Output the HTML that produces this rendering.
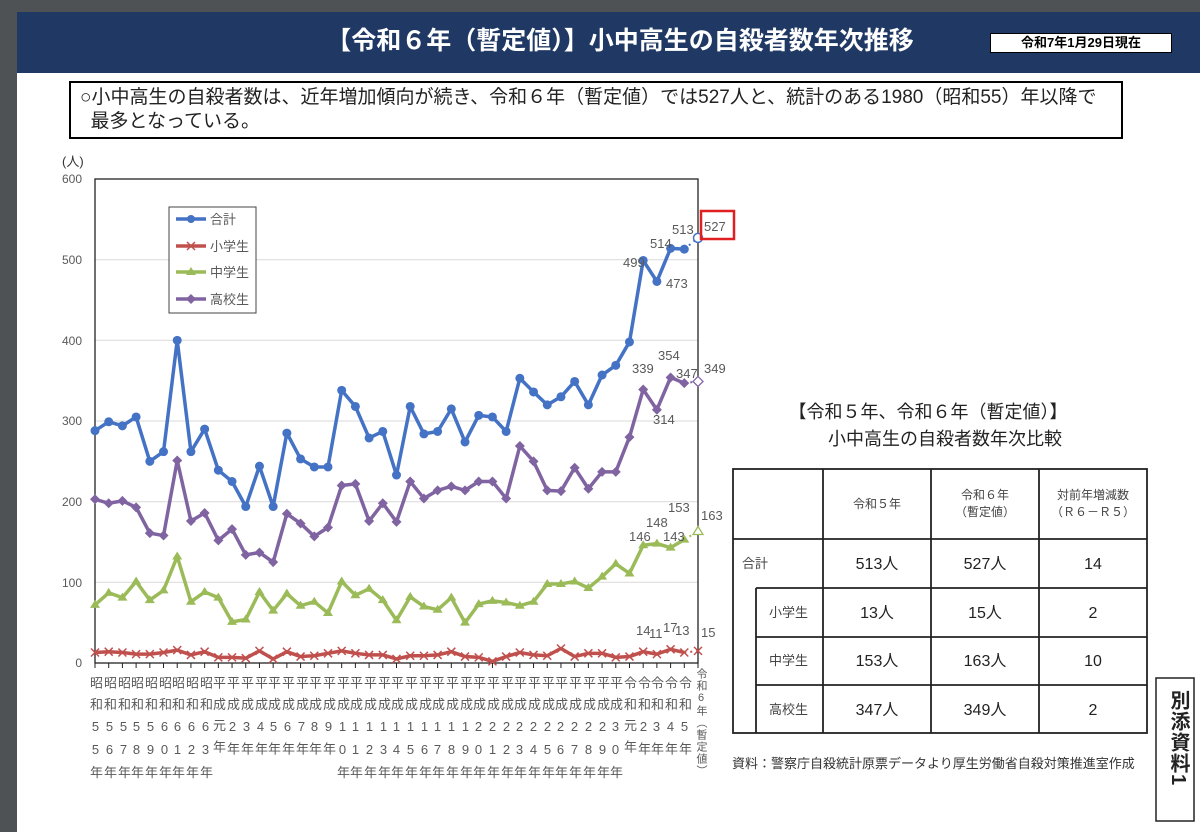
<!DOCTYPE html>
<html><head><meta charset="utf-8">
<style>
html,body{margin:0;padding:0;}
body{width:1200px;height:832px;background:#fff;position:relative;overflow:hidden;font-family:"Liberation Sans","Noto Sans CJK JP",sans-serif;}
.abs{position:absolute;}
.xl{position:absolute;top:676px;writing-mode:vertical-rl;text-orientation:upright;font-size:13px;letter-spacing:8.4px;color:#595959;width:14px;line-height:14px;}
</style></head><body>
<div class="abs" style="left:0;top:0;width:1200px;height:12px;background:#4e5254"></div>
<div class="abs" style="left:0;top:0;width:17px;height:832px;background:#4e5254"></div>
<div class="abs" style="left:17px;top:12px;width:1183px;height:61px;background:#203864"></div>
<div class="abs" style="left:300px;top:24px;width:640px;text-align:center;color:#fff;font-size:25px;font-weight:bold;line-height:34px;">【令和６年（暫定値）】小中高生の自殺者数年次推移</div>
<div class="abs" style="left:990px;top:33px;width:180px;height:18px;background:#fff;border:1px solid #000;font-size:13px;font-weight:bold;text-align:center;line-height:18px;">令和7年1月29日現在</div>
<div class="abs" style="left:69px;top:81px;width:1054px;height:58px;border:2.5px solid #000;font-size:19px;line-height:24px;color:#222;box-sizing:border-box;padding:3px 0 0 9px;white-space:nowrap;">○小中高生の自殺者数は、近年増加傾向が続き、令和６年（暫定値）では527人と、統計のある1980（昭和55）年以降で<br>&nbsp;&nbsp;最多となっている。</div>

<svg class="abs" style="left:0;top:0" width="1200" height="832" id="chart">
<g font-size="12" fill="#595959" text-anchor="end">
<text x="82" y="183">600</text><text x="82" y="264">500</text><text x="82" y="345">400</text>
<text x="82" y="425">300</text><text x="82" y="506">200</text><text x="82" y="587">100</text><text x="82" y="667">0</text>
</g>
<text x="62" y="166" font-size="13" fill="#333">(人)</text>
<g stroke="#d9d9d9" stroke-width="1">
<line x1="95" x2="698" y1="259.7" y2="259.7"/><line x1="95" x2="698" y1="340.3" y2="340.3"/><line x1="95" x2="698" y1="421" y2="421"/><line x1="95" x2="698" y1="501.7" y2="501.7"/><line x1="95" x2="698" y1="582.3" y2="582.3"/>
</g>
<rect x="95" y="179" width="603" height="484" fill="none" stroke="#222" stroke-width="1.3"/>
<g id="series"></g>
<rect x="169" y="207" width="87" height="106" fill="#fff" stroke="#444" stroke-width="1"/>
<g stroke-width="3.5">
<line x1="176" x2="206" y1="219" y2="219" stroke="#4472c4"/><circle cx="191" cy="219" r="4" fill="#4472c4"/>
<line x1="176" x2="206" y1="246" y2="246" stroke="#c0504d"/>
<line x1="176" x2="206" y1="272" y2="272" stroke="#9bbb59"/>
<line x1="176" x2="206" y1="299" y2="299" stroke="#8064a2"/>
</g>
<path d="M187,242 l8,8 M195,242 l-8,8" stroke="#c0504d" stroke-width="1.5"/>
<path d="M191,267 l5,8 h-10z" fill="#9bbb59"/>
<path d="M191,294 l5,5 -5,5 -5,-5z" fill="#8064a2"/>
<g font-size="13" fill="#595959">
<text x="210" y="224">合計</text><text x="210" y="251">小学生</text><text x="210" y="277">中学生</text><text x="210" y="304">高校生</text>
</g>
<g font-size="13" fill="#595959">
<text x="623" y="267">499</text><text x="666" y="288">473</text><text x="650" y="248">514</text><text x="672" y="234">513</text>
<text x="632" y="373">339</text><text x="653" y="424">314</text><text x="658" y="360">354</text><text x="676" y="378">347</text><text x="704" y="373">349</text>
<text x="629" y="541">146</text><text x="646" y="527">148</text><text x="663" y="541">143</text><text x="668" y="512">153</text><text x="701" y="520">163</text>
<text x="636" y="635">14</text><text x="649" y="638">11</text><text x="663" y="632">17</text><text x="675" y="635">13</text><text x="701" y="637">15</text>
</g>
<rect x="701" y="211" width="33" height="28" fill="none" stroke="#e02020" stroke-width="2.5"/>
<text x="704" y="231" font-size="13" fill="#595959">527</text>
<g stroke="#222" stroke-width="1" id="ticks"></g>

<g font-size="18" fill="#222" text-anchor="middle">
<text x="928" y="418">【令和５年、令和６年（暫定値）】</text>
<text x="945" y="445">小中高生の自殺者数年次比較</text>
</g>
<g stroke="#222" stroke-width="1.8" fill="none">
<rect x="733" y="469" width="414" height="264"/>
<line x1="733" x2="1147" y1="539" y2="539"/>
<line x1="756" x2="1147" y1="588" y2="588"/>
<line x1="756" x2="1147" y1="637" y2="637"/>
<line x1="756" x2="1147" y1="685" y2="685"/>
<line x1="756" x2="756" y1="588" y2="733"/>
<line x1="823" x2="823" y1="469" y2="733"/>
<line x1="931" x2="931" y1="469" y2="733"/>
<line x1="1039" x2="1039" y1="469" y2="733"/>
</g>
<g font-size="12" fill="#444" text-anchor="middle">
<text x="877" y="508">令和５年</text>
<text x="985" y="499">令和６年</text><text x="985" y="516">（暫定値）</text>
<text x="1093" y="499">対前年増減数</text><text x="1093" y="516">（Ｒ６－Ｒ５）</text>
</g>
<g font-size="13" fill="#444">
<text x="742" y="568">合計</text><text x="769" y="617">小学生</text><text x="769" y="665">中学生</text><text x="769" y="714">高校生</text>
</g>
<g font-size="16" fill="#222" text-anchor="middle">
<text x="877" y="569">513人</text><text x="985" y="569">527人</text><text x="1093" y="569">14</text>
<text x="877" y="618">13人</text><text x="985" y="618">15人</text><text x="1093" y="618">2</text>
<text x="877" y="666">153人</text><text x="985" y="666">163人</text><text x="1093" y="666">10</text>
<text x="877" y="715">347人</text><text x="985" y="715">349人</text><text x="1093" y="715">2</text>
</g>
<text x="732" y="768" font-size="13" fill="#333">資料：警察庁自殺統計原票データより厚生労働省自殺対策推進室作成</text>
<rect x="1156" y="678" width="38" height="143" fill="#fff" stroke="#222" stroke-width="1.5"/>
</svg>
<div class="abs" style="left:1164px;top:690px;writing-mode:vertical-rl;font-size:20px;font-weight:bold;color:#222;letter-spacing:1px;">別添資料1</div>

<div id="xlabels">
<div class="xl" style="left:88px">昭和55年</div><div class="xl" style="left:102px">昭和56年</div><div class="xl" style="left:116px">昭和57年</div><div class="xl" style="left:129px">昭和58年</div><div class="xl" style="left:143px">昭和59年</div><div class="xl" style="left:157px">昭和60年</div><div class="xl" style="left:170px">昭和61年</div><div class="xl" style="left:184px">昭和62年</div><div class="xl" style="left:198px">昭和63年</div>
<div class="xl" style="left:211px">平成元年</div><div class="xl" style="left:225px">平成2年</div><div class="xl" style="left:239px">平成3年</div><div class="xl" style="left:253px">平成4年</div><div class="xl" style="left:266px">平成5年</div><div class="xl" style="left:280px">平成6年</div><div class="xl" style="left:294px">平成7年</div><div class="xl" style="left:307px">平成8年</div><div class="xl" style="left:321px">平成9年</div>
<div class="xl" style="left:335px">平成10年</div><div class="xl" style="left:348px">平成11年</div><div class="xl" style="left:362px">平成12年</div><div class="xl" style="left:376px">平成13年</div><div class="xl" style="left:389px">平成14年</div><div class="xl" style="left:403px">平成15年</div><div class="xl" style="left:417px">平成16年</div><div class="xl" style="left:430px">平成17年</div><div class="xl" style="left:444px">平成18年</div><div class="xl" style="left:458px">平成19年</div><div class="xl" style="left:471px">平成20年</div><div class="xl" style="left:485px">平成21年</div><div class="xl" style="left:499px">平成22年</div><div class="xl" style="left:512px">平成23年</div><div class="xl" style="left:526px">平成24年</div><div class="xl" style="left:540px">平成25年</div><div class="xl" style="left:553px">平成26年</div><div class="xl" style="left:567px">平成27年</div><div class="xl" style="left:581px">平成28年</div><div class="xl" style="left:595px">平成29年</div><div class="xl" style="left:608px">平成30年</div>
<div class="xl" style="left:622px">令和元年</div><div class="xl" style="left:636px">令和2年</div><div class="xl" style="left:649px">令和3年</div><div class="xl" style="left:663px">令和4年</div><div class="xl" style="left:677px">令和5年</div>
<div class="xl" style="left:693px;top:668px;font-size:11px;letter-spacing:1px;line-height:12px;">令和6年（暫定値）</div>
</div>

<script>
var tot=[288,299,294,305,250,262,400,262,290,239,225,194,244,194,285,253,243,243,338,318,279,287,233,318,284,287,315,274,307,305,287,353,336,320,330,349,320,357,369,398,499,473,514,513,527];
var hs=[203,198,201,193,161,158,251,176,186,152,166,134,137,125,185,173,157,168,220,222,176,198,175,225,204,214,219,214,225,225,204,269,250,214,213,242,216,237,237,280,339,314,354,347,349];
var ms=[72,87,81,101,78,90,132,76,88,81,51,54,88,65,86,71,76,62,101,84,92,78,53,82,70,66,81,50,73,77,75,71,76,98,98,101,93,107,123,111,146,148,143,153,163];
var es=[13,14,13,11,11,13,16,10,14,7,7,6,15,5,14,8,9,12,15,12,10,10,5,9,9,10,14,8,7,2,8,13,10,9,18,8,12,12,7,8,14,11,17,13,15];
var NS="http://www.w3.org/2000/svg",g=document.getElementById('series');
function X(i){return 95+i*603/44;}function Y(v){return 663-v*484/600;}
function el(t,a){var e=document.createElementNS(NS,t);for(var k in a)e.setAttribute(k,a[k]);g.appendChild(e);return e;}
function marker(type,x,y,c,open){
 var f=open?'#fff':c;
 if(type=='c')el('circle',{cx:x,cy:y,r:4.5,fill:f,stroke:c,'stroke-width':open?1.5:0});
 if(type=='d')el('path',{d:'M'+x+','+(y-5)+'l5,5 -5,5 -5,-5z',fill:f,stroke:c,'stroke-width':open?1.3:0});
 if(type=='t')el('path',{d:'M'+x+','+(y-5)+'l5,8 h-10z',fill:f,stroke:c,'stroke-width':open?1.3:0});
 if(type=='x')el('path',{d:'M'+(x-4)+','+(y-4)+'l8,8 M'+(x+4)+','+(y-4)+'l-8,8',stroke:c,'stroke-width':1.5});
}
function series(d,c,type){
 var p=[];for(var i=0;i<44;i++)p.push(X(i)+','+Y(d[i]));
 el('polyline',{points:p.join(' '),fill:'none',stroke:c,'stroke-width':3.5,'stroke-linejoin':'round'});
 el('line',{x1:X(43),y1:Y(d[43]),x2:X(44),y2:Y(d[44]),stroke:c,'stroke-width':2,'stroke-dasharray':'2,4'});
 for(var i=0;i<44;i++)marker(type,X(i),Y(d[i]),c,false);
 marker(type,X(44),Y(d[44]),c,true);
}
series(es,'#c0504d','x');series(ms,'#9bbb59','t');series(hs,'#8064a2','d');series(tot,'#4472c4','c');
var tk=document.getElementById('ticks');
for(var i=0;i<=44;i++){var l=document.createElementNS(NS,'line');l.setAttribute('x1',X(i));l.setAttribute('x2',X(i));l.setAttribute('y1',663);l.setAttribute('y2',668);tk.appendChild(l);}
</script>
</body></html>
